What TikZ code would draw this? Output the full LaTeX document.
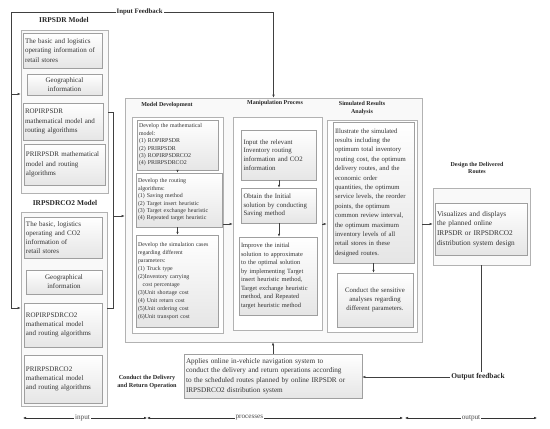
\documentclass[tikz,border=0pt]{standalone}
\usepackage{fontspec}
\setmainfont{Liberation Serif}
\usetikzlibrary{arrows.meta}

\begin{document}
\begin{tikzpicture}[x=1pt,y=-1pt,
  frame/.style={draw=gray!60,fill=gray!5,line width=0.6pt,inner sep=0pt},
  panel/.style={draw=gray!60,fill=white,line width=0.6pt,inner sep=0pt},
  box/.style={draw=gray!75,top color=white,bottom color=gray!20,line width=0.5pt,
    inner xsep=2pt,inner ysep=1pt,align=left,text=black!80},
  lbox/.style={box,font=\fontsize{7}{9.2}\selectfont},
  sbox/.style={box,font=\fontsize{5.9}{7.4}\selectfont},
  mbox/.style={box,font=\fontsize{6.8}{8.8}\selectfont},
  ttl/.style={font=\bfseries\fontsize{6}{7.4}\selectfont,align=center,text=black!85},
  arr/.style={-{Latex[length=3pt,width=2.4pt]},black!75,line width=0.5pt},
  con/.style={black!75,line width=0.5pt},
  dim/.style={{Latex[length=3pt,width=2.6pt]}-{Latex[length=3pt,width=2.6pt]},black!80,line width=0.5pt}]
\useasboundingbox (0,0) rectangle (550,429);

% left column
\node[frame,minimum width=87pt,minimum height=163pt] (fr1) at (64.5,111.5) {};
\node[ttl,font=\bfseries\fontsize{7.4}{9}\selectfont] (t1) at (64,20) {IRPSDR Model};
\node[lbox,text width=75pt,minimum height=35pt] (basic1) at (62.5,50.5) {The basic and logistics\\operating information of\\retail stores};
\node[lbox,text width=71pt,minimum height=21pt,align=center] (geo1) at (64.5,84.5) {Geographical\\information};
\node[lbox,text width=76pt,minimum height=37pt] (rop1) at (63,121.5) {ROPIRPSDR\\mathematical model and\\routing algorithms};
\node[lbox,text width=77pt,minimum height=41pt] (pri1) at (64.5,164.5) {PRIRPSDR mathematical\\model and routing\\algorithms};

\node[frame,minimum width=86pt,minimum height=194pt] (fr2) at (64,309) {};
\node[ttl,font=\bfseries\fontsize{7.4}{9}\selectfont] (t2) at (65,203) {IRPSDRCO2 Model};
\node[lbox,text width=74pt,minimum height=41pt] (basic2) at (63,237.5) {The basic, logistics\\operating and CO2\\information of\\retail stores};
\node[lbox,text width=72pt,minimum height=24pt,align=center] (geo2) at (64,282) {Geographical\\information};
\node[lbox,text width=74pt,minimum height=44pt] (rop2) at (63,325) {ROPIRPSDRCO2\\mathematical model\\and routing algorithms};
\node[lbox,text width=74pt,minimum height=48pt] (pri2) at (63,379) {PRIRPSDRCO2\\mathematical model\\and routing algorithms};

% processes
\node[frame,minimum width=297pt,minimum height=244pt] (big) at (273.5,220) {};
\node[ttl] (t3) at (167,105) {Model Development};
\node[ttl] (t4) at (275,103) {Manipulation Process};
\node[ttl] (t5) at (362,108) {Simulated Results\\Analysis};

\node[panel,minimum width=91pt,minimum height=216pt] (pan1) at (177.5,225) {};
\node[sbox,text width=77pt,minimum height=50pt] (md1) at (177.5,145) {Develop the mathematical\\model:\\(1) ROPIRPSDR\\(2) PRIRPSDR\\(3) ROPIRPSDRCO2\\(4) PRIRPSDRCO2};
\node[sbox,text width=82pt,minimum height=54pt] (md2) at (179,200) {Develop the routing\\algorithms:\\(1) Saving method\\(2) Target insert heuristic\\(3) Target exchange heuristic\\(4) Repeated target heuristic};
\node[sbox,font=\fontsize{5.9}{8}\selectfont,text width=78pt,minimum height=92pt] (md3) at (177,281) {Develop the simulation cases\\regarding different\\parameters:\\(1) Truck type\\(2)Inventory carrying\\\hspace*{0.8em}cost percentage\\(3)Unit shortage cost\\(4) Unit return cost\\(5)Unit ordering cost\\(6)Unit transport cost};

\node[panel,minimum width=89pt,minimum height=213pt] (pan2) at (277.5,223.5) {};
\node[mbox,text width=71pt,minimum height=50pt] (mp1) at (279,155) {Input the relevant\\Inventory routing\\information and CO2\\information};
\node[mbox,text width=71pt,minimum height=35pt] (mp2) at (279,205.5) {Obtain the Initial\\solution by conducting\\Saving method};
\node[mbox,font=\fontsize{6.4}{8.5}\selectfont,text width=74pt,minimum height=78pt] (mp3) at (278,276) {Improve the initial\\solution to approximate\\to the optimal solution\\by implementing Target\\insert heuristic method,\\Target exchange heuristic\\method, and Repeated\\target heuristic method};

\node[panel,minimum width=90pt,minimum height=212pt] (pan3) at (372,226) {};
\node[mbox,font=\fontsize{6.7}{9.4}\selectfont,text width=77pt,minimum height=141pt] (sr1) at (373.5,192.5) {Illustrate the simulated\\results including the\\optimum total inventory\\routing cost, the optimum\\delivery routes, and the\\economic order\\quantities, the optimum\\service levels, the reorder\\points, the optimum\\common review interval,\\the optimum maximum\\inventory levels of all\\retail stores in these\\designed routes.};
\node[mbox,text width=72pt,minimum height=54pt,align=center] (sr2) at (375,300) {Conduct the sensitive\\analyses regarding\\different parameters.};

% output
\node[panel,fill=gray!5,minimum width=97pt,minimum height=77pt] (dfr) at (481.5,226.5) {};
\node[ttl] (t6) at (477,168) {Design the Delivered\\Routes};
\node[lbox,font=\fontsize{7.3}{9.6}\selectfont,text width=88pt,minimum height=52pt] (dsn) at (481,229) {Visualizes and displays\\the planned online\\IRPSDR or IRPSDRCO2\\distribution system design};

\node[lbox,font=\fontsize{7.2}{9.8}\selectfont,text width=174pt,minimum height=44pt] (ops) at (273,376) {Applies online in-vehicle navigation system to\\conduct the delivery and return operations according\\to the scheduled routes planned by online IRPSDR or\\IRPSDRCO2 distribution system};
\node[ttl,font=\bfseries\fontsize{6.2}{8.4}\selectfont] (t7) at (147,382) {Conduct the Delivery\\and Return Operation};
\node[ttl,font=\bfseries\fontsize{7.4}{9}\selectfont,inner sep=1pt] (ofb) at (478,377) {Output feedback};

% input feedback
\coordinate (fbL) at (11,308);
\coordinate (fbT) at (11,12);
\coordinate (fbR) at (273.5,12);
\coordinate (fb1) at (11,94);
\draw[con] (fbL) -- (fbT) -- node[ttl,font=\bfseries\fontsize{6.8}{8}\selectfont,fill=white,inner sep=1pt,pos=0.49] (ifb) {Input Feedback} (fbR);
\draw[arr] (fbR) -- (big.north);
\draw[arr] (fb1) -- (fb1 -| fr1.west);
\draw[arr] (fbL) -- (fbL -| fr2.west);

% left models into processes
\coordinate (jt) at (113,112);
\coordinate (jb) at (113,308);
\coordinate (jm) at (113,216);
\draw[con] (jt -| fr1.east) -- (jt) -- (jb) -- (jb -| fr2.east);
\draw[arr] (jm) -- (jm -| big.west);

% steps
\draw[arr] (md1.south) -- (md1.south |- md2.north);
\draw[arr] (md2.south -| md1.south) -- (md1.south |- md3.north);
\draw[arr] (mp1.south) -- (mp1.south |- mp2.north);
\draw[arr] (mp2.south) -- (mp2.south |- mp3.north);
\draw[arr] (sr1.south) -- (sr1.south |- sr2.north);
\coordinate (lv) at (0,224);
\draw[arr] (lv -| pan1.east) -- (lv -| pan2.west);
\draw[arr] (lv -| pan2.east) -- (lv -| pan3.west);
\draw[arr] (lv -| big.east) -- (lv -| dfr.west);

% output feedback
\draw[con] (dfr.south) -- (dfr.south |- ofb.north);
\draw[arr] (ofb.west) -- (ofb.west -| ops.east);
\draw[arr] (ops.north) -- (ops.north |- big.south);

\foreach \f/\s/\t/\p in {23/147/input/0.48, 147/403/processes/0.4, 405/537/output/0.5}
  \draw[dim] (\f,418) coordinate (a\t) -- node[pos=\p,fill=white,inner sep=1pt,text=black!70,font=\fontsize{7.2}{8}\selectfont] (l\t) {\t} (\s,418);
\end{tikzpicture}
\end{document}
